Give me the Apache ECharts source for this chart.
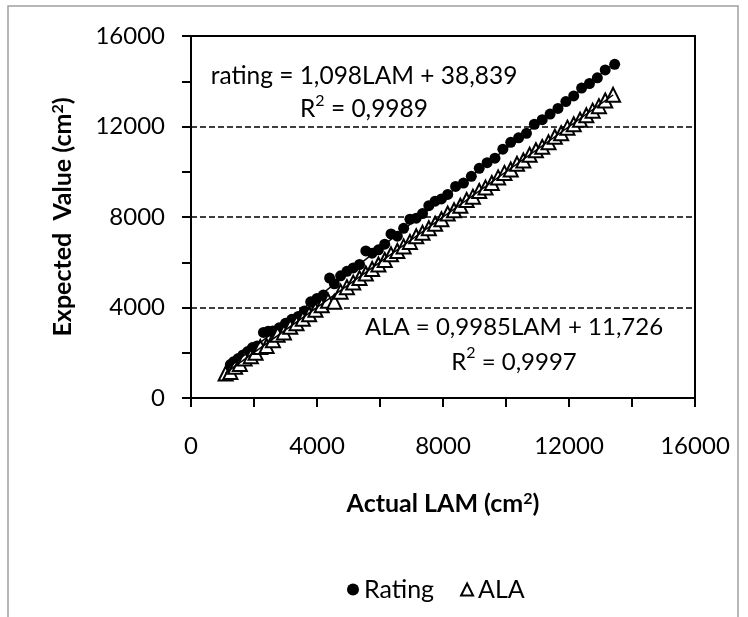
<!DOCTYPE html>
<html>
<head>
<meta charset="utf-8">
<script src="https://cdn.jsdelivr.net/npm/echarts@6/dist/echarts.min.js"></script>
<style>
  html, body { margin: 0; padding: 0; background: #fff; }
  #chart { width: 748px; height: 617px; }
</style>
</head>
<body>
<div id="chart"></div>
<script>
// Rating (filled circles)
const ratingX = [1250, 1350, 1500, 1650, 1800, 1950, 2100, 2300, 2450, 2600, 2800, 3000, 3200, 3400, 3600, 3800, 4000, 4200, 4400, 4550, 4750, 4950, 5150, 5350, 5550, 5750, 5950, 6150, 6350, 6550, 6750, 6950, 7150, 7350, 7550, 7750, 7950, 8150, 8400, 8650, 8900, 9150, 9400, 9650, 9900, 10150, 10400, 10650, 10900, 11150, 11400, 11650, 11900, 12150, 12400, 12650, 12900, 13150, 13450];
const ratingY = [1480, 1600, 1750, 1900, 2050, 2230, 2300, 2900, 2950, 2960, 3100, 3300, 3480, 3600, 3850, 4250, 4400, 4550, 5300, 5050, 5400, 5600, 5750, 5900, 6500, 6400, 6550, 6800, 7250, 7150, 7500, 7900, 7950, 8150, 8500, 8700, 8800, 9000, 9350, 9500, 9800, 10150, 10400, 10600, 11000, 11300, 11500, 11700, 12100, 12300, 12550, 12800, 13100, 13350, 13700, 13900, 14150, 14500, 14750];

// ALA (open triangles)
const alaX = [1100, 1250, 1400, 1550, 1700, 1900, 2050, 2200, 2400, 2600, 2750, 2950, 3150, 3350, 3550, 3750, 3950, 4150, 4350, 4550, 4750, 4950, 5150, 5350, 5550, 5750, 5950, 6150, 6350, 6550, 6750, 6950, 7150, 7350, 7550, 7750, 7950, 8150, 8350, 8550, 8750, 8950, 9150, 9350, 9550, 9750, 9950, 10150, 10350, 10550, 10750, 10950, 11150, 11350, 11550, 11750, 11950, 12150, 12350, 12550, 12750, 12950, 13150, 13400];
const alaY = [1080, 1150, 1380, 1500, 1750, 1850, 2000, 2250, 2300, 2550, 2800, 2900, 3150, 3300, 3500, 3700, 3900, 4100, 4300, 4250, 4700, 4900, 5100, 5300, 5500, 5700, 5900, 6100, 6350, 6500, 6700, 6900, 7150, 7300, 7500, 7700, 7900, 8150, 8300, 8500, 8750, 8900, 9150, 9300, 9500, 9750, 9950, 10100, 10350, 10500, 10750, 10950, 11100, 11300, 11550, 11700, 11950, 12100, 12300, 12500, 12700, 12900, 13150, 13400];

// trendline equations as printed on the chart
const ratingFit = { slope: 1.098, intercept: 38.839 };
const alaFit = { slope: 0.9985, intercept: 11.726 };
const ratingLabel = "rating = 1,098LAM + 38,839\nR{sup|2} = 0,9989";
const alaLabel = "ALA = 0,9985LAM + 11,726\nR{sup|2} = 0,9997";

const font = "Lato";

function pairs(xs, ys) { return xs.map((x, i) => [x, ys[i]]); }
function fitLine(xs, fit) {
  const lo = Math.min(...xs), hi = Math.max(...xs);
  return [[lo, fit.slope * lo + fit.intercept], [hi, fit.slope * hi + fit.intercept]];
}

const chart = echarts.init(document.getElementById("chart"));

const titleStyle = {
  fontFamily: font, fontSize: 25, fontWeight: "bold", color: "#000",
  rich: { sup: { fontFamily: font, fontSize: 16, fontWeight: "bold", color: "#000", verticalAlign: "top", lineHeight: 25 } }
};
const eqRich = { sup: { fontFamily: font, fontSize: 16, fill: "#000", verticalAlign: "top" } };

const option = {
  animation: false,
  textStyle: { fontFamily: font, color: "#000" },
  grid: {
    left: 191, right: 53, top: 36, bottom: 219,
    show: true, borderColor: "#000", borderWidth: 2
  },
  xAxis: {
    type: "value", min: 0, max: 16000, interval: 4000,
    name: "Actual LAM (cm{sup|2})", nameLocation: "middle", nameGap: 93,
    nameTextStyle: titleStyle,
    axisLine: { show: true, onZero: false, lineStyle: { color: "#000", width: 2 } },
    axisTick: { show: true, inside: false, length: 9, lineStyle: { color: "#000", width: 2 } },
    minorTick: { show: true, splitNumber: 2, length: 9, lineStyle: { color: "#000", width: 2 } },
    axisLabel: { fontFamily: font, fontSize: 24, color: "#000", margin: 36, formatter: v => String(v) },
    splitLine: { show: false }
  },
  yAxis: {
    type: "value", min: 0, max: 16000, interval: 4000,
    name: "Expected  Value (cm{sup|2})", nameLocation: "middle", nameGap: 116,
    nameTextStyle: titleStyle,
    axisLine: { show: true, onZero: false, lineStyle: { color: "#000", width: 2 } },
    axisTick: { show: true, inside: false, length: 9, lineStyle: { color: "#000", width: 2 } },
    minorTick: { show: true, splitNumber: 2, length: 9, lineStyle: { color: "#000", width: 2 } },
    axisLabel: { fontFamily: font, fontSize: 24, color: "#000", margin: 26, formatter: v => String(v) },
    splitLine: { show: true, lineStyle: { color: "#000", width: 1.5, type: [6, 3] } }
  },
  legend: {
    data: ["Rating", "ALA"],
    left: 342, top: 572,
    itemWidth: 12, itemHeight: 12, itemGap: 26,
    textStyle: { fontFamily: font, fontSize: 25, color: "#000" }
  },
  graphic: [
    {
      type: "rect", silent: true, z: -1,
      shape: { x: 8, y: 6, width: 730, height: 640 },
      style: { fill: "none", stroke: "#a0a0a0", lineWidth: 1.5 }
    },
    {
      type: "text", x: 364, y: 93, z: 100,
      style: { text: ratingLabel, rich: eqRich, fontFamily: font, fontSize: 24.5, fill: "#000", align: "center", verticalAlign: "middle", lineHeight: 33 }
    },
    {
      type: "text", x: 514, y: 345, z: 100,
      style: { text: alaLabel, rich: eqRich, fontFamily: font, fontSize: 24, fill: "#000", align: "center", verticalAlign: "middle", lineHeight: 35 }
    }
  ],
  series: [
    {
      name: "Rating", type: "scatter",
      data: pairs(ratingX, ratingY),
      symbol: "circle", symbolSize: 11,
      itemStyle: { color: "#000", opacity: 1 }, z: 3
    },
    {
      name: "ALA", type: "scatter",
      data: pairs(alaX, alaY),
      symbol: "triangle", symbolSize: 14,
      itemStyle: { color: "#fff", borderColor: "#000", borderWidth: 2, opacity: 1 }, z: 4
    },
    {
      name: "Rating fit", type: "line", data: fitLine(ratingX, ratingFit),
      symbol: "none", silent: true, z: 5,
      lineStyle: { color: "#000", width: 1.5 }
    },
    {
      name: "ALA fit", type: "line", data: fitLine(alaX, alaFit),
      symbol: "none", silent: true, z: 5,
      lineStyle: { color: "#000", width: 1.5 }
    }
  ]
};

chart.setOption(option);
</script>
</body>
</html>
